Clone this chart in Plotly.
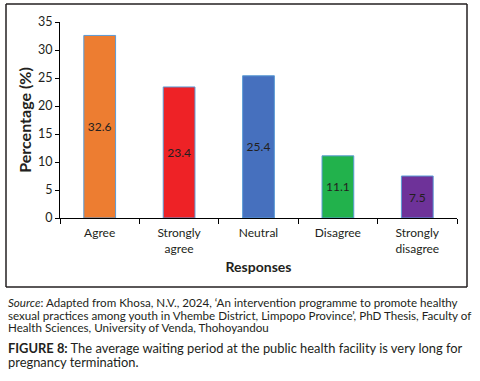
import plotly.graph_objects as go

categories = ["Agree", "Strongly<br>agree", "Neutral", "Disagree", "Strongly<br>disagree"]
values = [32.6, 23.4, 25.4, 11.1, 7.5]
bar_colors = ["#ED7D31", "#EE2226", "#4670BE", "#22B24C", "#6E3299"]
y_ticks = [0, 5, 10, 15, 20, 25, 30, 35]

source_lines = [
    "<i>Source</i>: Adapted from Khosa, N.V., 2024, \u2018An intervention programme to promote healthy",
    "sexual practices among youth in Vhembe District, Limpopo Province\u2019, PhD Thesis, Faculty of",
    "Health Sciences, University of Venda, Thohoyandou",
]
caption_lines = [
    "<b>FIGURE 8:</b> The average waiting period at the public health facility is very long for",
    "pregnancy termination.",
]

FONT = "Lato"
TXT = "#231F20"

fig = go.Figure()
fig.add_trace(go.Bar(
    x=categories, y=values,
    marker=dict(color=bar_colors, line=dict(color="#5B9BD5", width=1)),
    width=0.4,
    text=[f"{v}" for v in values],
    textposition="inside", insidetextanchor="middle",
    textfont=dict(family=FONT, size=12, color=TXT),
    textangle=0,
    hoverinfo="skip",
))

L, R, T, B = 60, 23, 22, 163
W, H = 480, 381
pw = W - L - R
ph = H - T - B

def px_x(x):
    return (x - L) / pw

def px_y(y):
    return (H - B - y) / ph

annotations = []
for i, line in enumerate(source_lines):
    annotations.append(dict(
        xref="paper", yref="paper", x=px_x(6), y=px_y(302 + 13 * i),
        xanchor="left", yanchor="middle", align="left", showarrow=False,
        font=dict(family=FONT, size=11.6, color=TXT), text=line,
    ))
for i, line in enumerate(caption_lines):
    annotations.append(dict(
        xref="paper", yref="paper", x=px_x(6), y=px_y(348 + 14 * i),
        xanchor="left", yanchor="middle", align="left", showarrow=False,
        font=dict(family=FONT, size=12.9, color=TXT), text=line,
    ))

# frame around chart (four paper-referenced lines)
bx0, bx1, by0, by1 = px_x(6), px_x(467), px_y(287), px_y(4)
frame_style = dict(color="#231F20", width=1.5)
shapes = [
    dict(type="line", xref="paper", yref="paper", x0=bx0, x1=bx1, y0=by1, y1=by1, line=frame_style, layer="above"),
    dict(type="line", xref="paper", yref="paper", x0=bx0, x1=bx1, y0=by0, y1=by0, line=frame_style, layer="above"),
    dict(type="line", xref="paper", yref="paper", x0=bx0, x1=bx0, y0=by0, y1=by1, line=frame_style, layer="above"),
    dict(type="line", xref="paper", yref="paper", x0=bx1, x1=bx1, y0=by0, y1=by1, line=frame_style, layer="above"),
]

fig.update_layout(
    width=W, height=H,
    margin=dict(l=L, r=R, t=T, b=B, autoexpand=False),
    paper_bgcolor="white", plot_bgcolor="white",
    showlegend=False,
    font=dict(family=FONT, color=TXT),
    xaxis=dict(
        automargin=False,
        showline=True, linecolor="black", linewidth=1,
        ticks="outside", ticklen=5, tickcolor="black", tickson="boundaries",
        ticklabelstandoff=4,
        tickfont=dict(family=FONT, size=12, color=TXT),
        title=dict(text="<b>Responses</b>", font=dict(family=FONT, size=14, color=TXT), standoff=7),
    ),
    yaxis=dict(
        automargin=False,
        range=[0, 35], tickvals=y_ticks,
        showline=True, linecolor="black", linewidth=1,
        ticks="outside", ticklen=4, tickcolor="black",
        showgrid=False, zeroline=False,
        tickfont=dict(family=FONT, size=12.5, color=TXT),
        title=dict(text="<b>Percentage (%)</b>", font=dict(family=FONT, size=16, color=TXT), standoff=2),
    ),
    shapes=shapes,
    annotations=annotations,
)

fig.write_html(
    "out.html",
    config={"displayModeBar": False},
    post_script="document.body.style.margin='0';document.body.style.padding='0';",
)
